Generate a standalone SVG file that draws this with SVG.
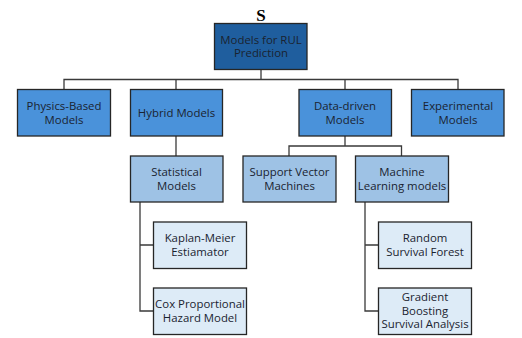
<svg xmlns="http://www.w3.org/2000/svg" width="522" height="338" viewBox="0 0 522 338">
<style>
.b{stroke:#262626;stroke-width:1.3}
.l0{fill:#1F5E9E}
.l1{fill:#4A92DA}
.l2{fill:#9EC2E5}
.l3{fill:#DDEBF7}
text{font-family:"Open Sans","Noto Sans",sans-serif;font-size:11.4px;fill:#1a2330;text-anchor:middle}
.c{fill:none;stroke:#3a3a3a;stroke-width:1.3}
</style>
<rect width="522" height="338" fill="#ffffff"/>
<text x="261" y="21" style="font-family:'Liberation Serif',serif;font-size:17px;font-weight:bold;fill:#000">S</text>
<g id="connectors">
<path class="c" d="M261 70V79.5M64 89V79.5H458V89M176 79.5V89M345 79.5V89"/>
<path class="c" d="M176 136V156"/>
<path class="c" d="M345 136V146M289 156V146H401.5V156"/>
<path class="c" d="M140 202V311H153M140 245H153"/>
<path class="c" d="M365 202V311H378M365 245H378"/>
</g>
<g id="root"><rect class="b l0" x="214.5" y="23.5" width="92.5" height="46"/><text x="261" y="43.6">Models for RUL</text><text x="261" y="57.4">Prediction</text></g>
<g id="physics"><rect class="b l1" x="17.5" y="89.5" width="93" height="46.5"/><text x="64" y="109.8">Physics-Based</text><text x="64" y="123.6">Models</text></g>
<g id="hybrid"><rect class="b l1" x="130.5" y="89.5" width="92" height="46.5"/><text x="176.5" y="116.7">Hybrid Models</text></g>
<g id="datadriven"><rect class="b l1" x="299" y="89.5" width="92.5" height="46.5"/><text x="345" y="109.8">Data-driven</text><text x="345" y="123.6">Models</text></g>
<g id="experimental"><rect class="b l1" x="411.5" y="89.5" width="92.5" height="46.5"/><text x="458" y="109.8">Experimental</text><text x="458" y="123.6">Models</text></g>
<g id="statistical"><rect class="b l2" x="130.5" y="156" width="92.5" height="46"/><text x="176.5" y="176.1">Statistical</text><text x="176.5" y="189.9">Models</text></g>
<g id="svm"><rect class="b l2" x="243" y="156" width="93" height="46"/><text x="289.5" y="176.1">Support Vector</text><text x="289.5" y="189.9">Machines</text></g>
<g id="ml"><rect class="b l2" x="355.5" y="156" width="93" height="46"/><text x="402" y="176.1">Machine</text><text x="402" y="189.9">Learning models</text></g>
<g id="kaplan"><rect class="b l3" x="153.5" y="222" width="93" height="46.5"/><text x="200" y="242.3">Kaplan-Meier</text><text x="200" y="256.1">Estiamator</text></g>
<g id="cox"><rect class="b l3" x="153.5" y="288" width="93" height="46.5"/><text x="200" y="308.3">Cox Proportional</text><text x="200" y="322.1">Hazard Model</text></g>
<g id="rsf"><rect class="b l3" x="378.5" y="222" width="93" height="46.5"/><text x="425" y="242.3">Random</text><text x="425" y="256.1">Survival Forest</text></g>
<g id="gbsa"><rect class="b l3" x="378.5" y="288" width="93" height="46.5"/><text x="425" y="300.7">Gradient</text><text x="425" y="314.5">Boosting</text><text x="425" y="328.3">Survival Analysis</text></g>
</svg>
